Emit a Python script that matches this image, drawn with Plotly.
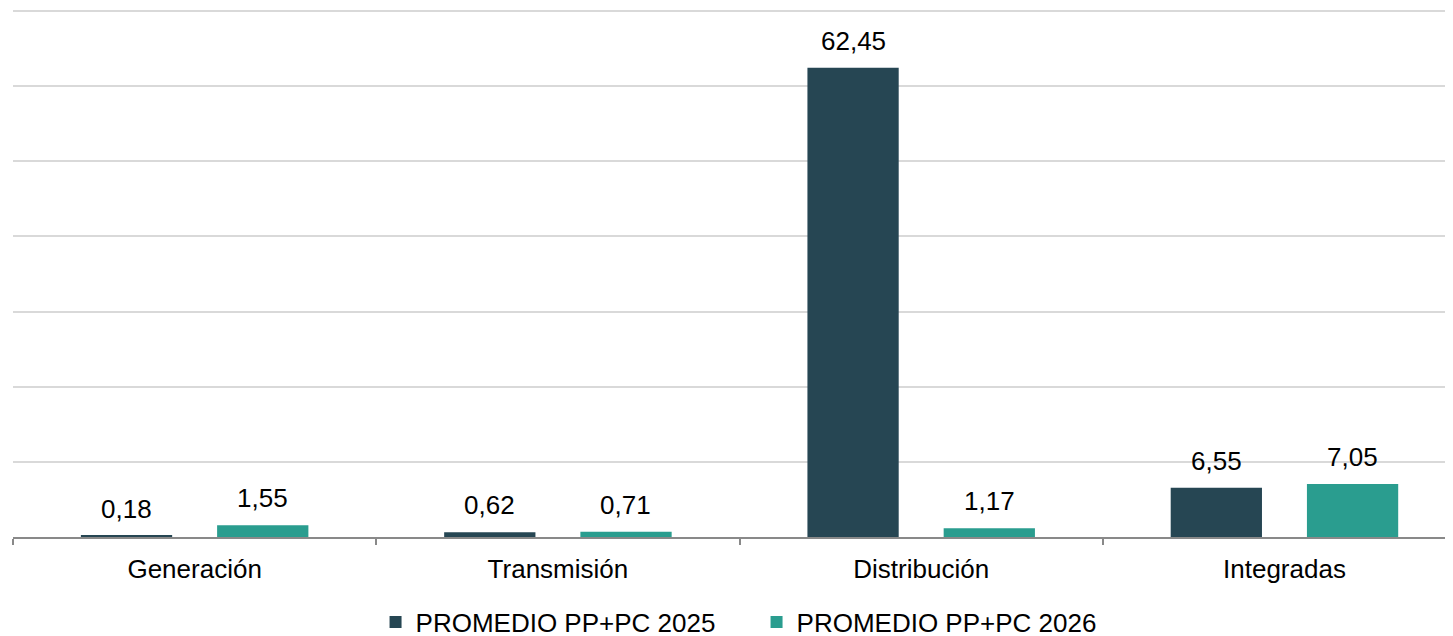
import plotly.graph_objects as go

categories = ["Generación", "Transmisión", "Distribución", "Integradas"]
series_names = ["PROMEDIO PP+PC 2025", "PROMEDIO PP+PC 2026"]
values_2025 = [0.18, 0.62, 62.45, 6.55]
values_2026 = [1.55, 0.71, 1.17, 7.05]
colors = ["#264653", "#2A9D8F"]

FONT = "Liberation Sans, Arial, sans-serif"

def fmt(v):
    return f"{v:.2f}".replace(".", ",")

fig = go.Figure()
for name, vals, col in zip(series_names, [values_2025, values_2026], colors):
    fig.add_trace(go.Bar(
        x=categories, y=vals, name=name, marker_color=col,
        marker_line_width=0, cliponaxis=False,
    ))

# data labels above bars
for vals, shift in zip([values_2025, values_2026], [-68, 68]):
    for c, v in zip(categories, vals):
        fig.add_annotation(
            x=c, y=v, xref="x", yref="y", text=fmt(v), showarrow=False,
            xshift=shift, yshift=10, yanchor="bottom", xanchor="center",
            font=dict(family=FONT, size=26, color="#000000"),
        )

fig.update_layout(
    width=1453, height=636,
    margin=dict(l=5, r=0, t=1, b=107, autoexpand=False),
    paper_bgcolor="white", plot_bgcolor="white",
    barmode="group", bargap=0.25, bargroupgap=0.33,
    font=dict(family=FONT, color="#000000"),
    legend=dict(orientation="h", x=0.5135, xanchor="center", y=-0.161, yanchor="middle",
                font=dict(family=FONT, size=26, color="#000000"),
                itemwidth=30, entrywidth=336, traceorder="normal"),
    showlegend=True,
)
fig.update_xaxes(
    range=[-0.5, 3.486], showgrid=False, showline=True, linecolor="#898989", linewidth=1.5,
    ticks="outside", tickson="boundaries", ticklen=6, tickcolor="#898989", tickwidth=1.5,
    ticklabelstandoff=8,
    tickfont=dict(family=FONT, size=26, color="#000000"),
)
fig.update_yaxes(
    range=[0, 70.27], dtick=10, showgrid=True, gridcolor="#d9d9d9", gridwidth=2,
    showticklabels=False, zeroline=False, showline=False,
)

fig.write_html("out.html")
